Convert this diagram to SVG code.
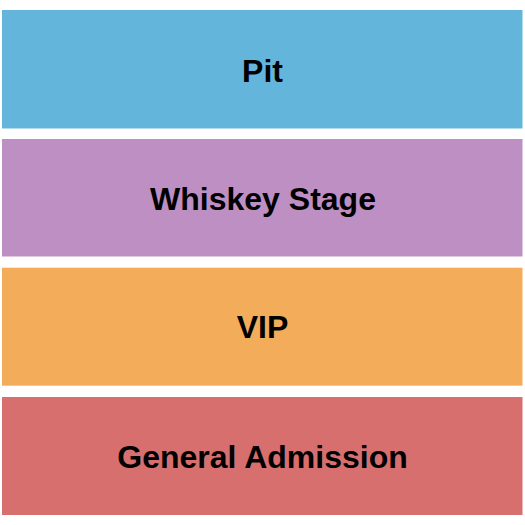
<svg xmlns="http://www.w3.org/2000/svg" width="525" height="525" viewBox="0 0 525 525">
<style>
.band{stroke:none}
.lbl{font-family:"Liberation Sans",Arial,sans-serif;font-weight:bold;font-size:32px;fill:#000;text-anchor:middle}
</style>
<rect width="525" height="525" fill="#fff"/>
<g id="pit">
<rect class="band" x="2" y="10" width="520.5" height="118.5" fill="#64B5DC"/>
<text class="lbl" x="262.5" y="82">Pit</text>
</g>
<g id="whiskey-stage">
<rect class="band" x="2" y="139" width="520.5" height="117.5" fill="#BD8FC3"/>
<text class="lbl" x="263" y="210">Whiskey Stage</text>
</g>
<g id="vip">
<rect class="band" x="2" y="267.7" width="520.5" height="118" fill="#F3AD5A"/>
<text class="lbl" x="262.5" y="338.3">VIP</text>
</g>
<g id="general-admission">
<rect class="band" x="2" y="397" width="520.5" height="118" fill="#D86F6F"/>
<text class="lbl" x="262.5" y="467.5">General Admission</text>
</g>
<g id="connectors"/>
</svg>
